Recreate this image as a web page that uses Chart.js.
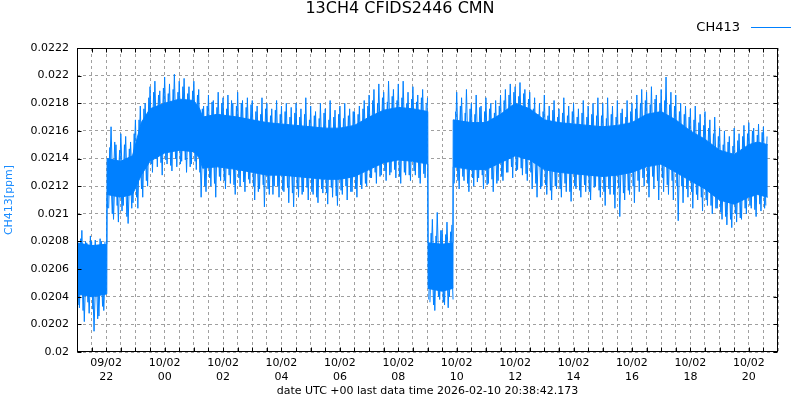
<!DOCTYPE html>
<html>
<head>
<meta charset="utf-8">
<title>13CH4 CFIDS2446 CMN</title>
<script src="https://cdn.jsdelivr.net/npm/chart.js@4.4.1/dist/chart.umd.min.js"></script>
<style>
  html, body { margin: 0; padding: 0; background: #fff; }
  #wrap { width: 800px; height: 400px; position: relative; }
</style>
</head>
<body>
<div id="wrap"><canvas id="chart"></canvas></div>
<script>
// x values are hours counted from 09/02 00:00 UTC
const X_MIN = 21;
const X_MAX = 45;
const xTickHours = [22, 24, 26, 28, 30, 32, 34, 36, 38, 40, 42, 44];
const xTickLabels = [
  ['09/02', '22'], ['10/02', '00'], ['10/02', '02'], ['10/02', '04'],
  ['10/02', '06'], ['10/02', '08'], ['10/02', '10'], ['10/02', '12'],
  ['10/02', '14'], ['10/02', '16'], ['10/02', '18'], ['10/02', '20']
];
const yTicks = [0.02, 0.0202, 0.0204, 0.0206, 0.0208, 0.021, 0.0212, 0.0214, 0.0216, 0.0218, 0.022, 0.0222];

// times where the level jumps
const jumps = [22.03, 33.02, 33.88];

// dense core of the signal (upper / lower edge)
const coreT = [21.0, 21.5, 22.02, 22.03, 22.5, 22.9, 23.2, 23.5, 24.0, 24.5, 25.0, 25.2, 25.3, 25.8,
  26.5, 27.0, 27.5, 28.0, 28.5, 29.0, 29.5, 30.0, 30.5, 31.0, 31.5, 32.0, 32.5, 33.01,
  33.02, 33.5, 33.87, 33.88, 34.5, 35.0, 35.5, 36.0, 36.5, 37.0, 37.5, 38.0, 38.5, 39.0,
  39.5, 40.0, 40.5, 41.0, 41.5, 42.0, 42.5, 43.0, 43.5, 44.0, 44.3, 44.65];
const coreHi = [0.02079, 0.02077, 0.02078, 0.02140, 0.02138, 0.02142, 0.02166, 0.02176, 0.02180, 0.02183, 0.02182, 0.02176, 0.02170, 0.02172,
  0.02170, 0.02168, 0.02166, 0.02165, 0.02164, 0.02163, 0.02162, 0.02162, 0.02164, 0.02170, 0.02175, 0.02177, 0.02176, 0.02174,
  0.02079, 0.02078, 0.02079, 0.02168, 0.02166, 0.02166, 0.02172, 0.02180, 0.02176, 0.02168, 0.02166, 0.02165, 0.02164, 0.02163,
  0.02164, 0.02166, 0.02172, 0.02174, 0.02168, 0.02160, 0.02154, 0.02146, 0.02143, 0.02150, 0.02152, 0.02150];
const coreLo = [0.02042, 0.02040, 0.02042, 0.02114, 0.02112, 0.02114, 0.02128, 0.02138, 0.02144, 0.02146, 0.02145, 0.02140, 0.02133, 0.02134,
  0.02132, 0.02130, 0.02128, 0.02128, 0.02127, 0.02126, 0.02125, 0.02125, 0.02127, 0.02132, 0.02137, 0.02139, 0.02138, 0.02136,
  0.02046, 0.02044, 0.02046, 0.02134, 0.02132, 0.02132, 0.02137, 0.02142, 0.02139, 0.02132, 0.02130, 0.02129, 0.02128, 0.02127,
  0.02128, 0.02130, 0.02134, 0.02136, 0.02130, 0.02124, 0.02118, 0.02110, 0.02107, 0.02112, 0.02114, 0.02112];

// large spikes, one extreme every 5 minutes from 21:00
const SPIKE_START = 21;
const SPIKE_STEP = 5 / 60;
const spikes = [
  0.02080, 0.02032, 0.02088, 0.02022, 0.02079, 0.02028, 0.02080, 0.02015, 0.02076, 0.02026, 0.02080, 0.02030, 0.02078,
  0.02104, 0.02163, 0.02096, 0.02150, 0.02094, 0.02158, 0.02106, 0.02156, 0.02093, 0.02152,
  0.02108, 0.02168, 0.02104, 0.02178, 0.02112, 0.02180, 0.02120,
  0.02192, 0.02130, 0.02196, 0.02134, 0.02189, 0.02128, 0.02199, 0.02136, 0.02194, 0.02131, 0.02201, 0.02134, 0.02196, 0.02138, 0.02198, 0.02130, 0.02192, 0.02136, 0.02196, 0.02132, 0.02190,
  0.02112, 0.02178,
  0.02116, 0.02186, 0.02120, 0.02182, 0.02112, 0.02188, 0.02124, 0.02184, 0.02118, 0.02186, 0.02122, 0.02180, 0.02114, 0.02188, 0.02120, 0.02182, 0.02116, 0.02184, 0.02122,
  0.02182, 0.02110, 0.02178, 0.02118, 0.02184, 0.02105, 0.02180, 0.02114, 0.02176, 0.02120, 0.02182, 0.02112, 0.02178, 0.02116, 0.02180, 0.02108, 0.02177, 0.02105,
  0.02180, 0.02112, 0.02176, 0.02116, 0.02184, 0.02110, 0.02178, 0.02114, 0.02174, 0.02108, 0.02180, 0.02115, 0.02176, 0.02107, 0.02182, 0.02112, 0.02175, 0.02106, 0.02178, 0.02114, 0.02180, 0.02110, 0.02176, 0.02116, 0.02174, 0.02112, 0.02178, 0.02118, 0.02182,
  0.02120, 0.02186, 0.02126, 0.02190, 0.02122, 0.02194, 0.02128, 0.02188, 0.02124, 0.02196, 0.02130, 0.02190, 0.02126, 0.02194, 0.02122, 0.02196, 0.02128, 0.02188, 0.02124, 0.02192, 0.02128, 0.02186, 0.02122, 0.02190, 0.02126, 0.02184,
  0.02036, 0.02096, 0.02030, 0.02101, 0.02038, 0.02088, 0.02034, 0.02094, 0.02040, 0.02092,
  0.02122, 0.02188, 0.02118, 0.02184, 0.02124, 0.02190, 0.02116, 0.02180, 0.02120, 0.02186, 0.02126, 0.02178, 0.02118, 0.02184, 0.02122, 0.02180, 0.02116, 0.02182, 0.02124, 0.02186,
  0.02124, 0.02190, 0.02130, 0.02194, 0.02126, 0.02192, 0.02132, 0.02195, 0.02128, 0.02190, 0.02124, 0.02188,
  0.02118, 0.02184, 0.02112, 0.02180, 0.02120, 0.02186, 0.02114, 0.02178, 0.02110, 0.02182, 0.02118, 0.02176, 0.02112, 0.02184, 0.02116, 0.02178, 0.02109, 0.02180, 0.02118, 0.02176, 0.02112, 0.02182, 0.02116, 0.02178, 0.02110, 0.02180, 0.02120, 0.02184,
  0.02112, 0.02180, 0.02106, 0.02184, 0.02114, 0.02178, 0.02104, 0.02182, 0.02098, 0.02176, 0.02110, 0.02182, 0.02114, 0.02180, 0.02108,
  0.02186, 0.02116, 0.02190, 0.02120, 0.02188, 0.02112, 0.02192, 0.02118, 0.02186, 0.02110, 0.02190, 0.02116, 0.02199, 0.02114, 0.02188, 0.02110, 0.02186,
  0.02095, 0.02180, 0.02108, 0.02178, 0.02112, 0.02176, 0.02104, 0.02178, 0.02110, 0.02172, 0.02102, 0.02174, 0.02106, 0.02168, 0.02100, 0.02170, 0.02104, 0.02162,
  0.02096, 0.02160, 0.02092, 0.02156, 0.02090, 0.02162, 0.02094, 0.02158, 0.02096,
  0.02164, 0.02100, 0.02166, 0.02104, 0.02162, 0.02098, 0.02165, 0.02102, 0.02163, 0.02106
];

// smaller fluctuations, one extreme every 5 minutes from 21:02:30
const SMALL_START = 21 + 2.5 / 60;
const small = [
  0.02034, 0.02082, 0.02030, 0.02080, 0.02036, 0.02084, 0.02031, 0.02081, 0.02024, 0.02082, 0.02033, 0.02080,
  0.02104, 0.02148, 0.02100, 0.02152, 0.02106, 0.02146, 0.02102, 0.02150, 0.02098, 0.02147,
  0.02104, 0.02158, 0.02112, 0.02168, 0.02118, 0.02176, 0.02124,
  0.02184, 0.02136, 0.02188, 0.02140, 0.02186, 0.02137, 0.02191, 0.02139, 0.02187, 0.02135, 0.02190, 0.02140, 0.02188, 0.02136, 0.02192, 0.02139, 0.02187, 0.02134, 0.02189, 0.02138, 0.02186, 0.02130,
  0.02176, 0.02120, 0.02178, 0.02126, 0.02181, 0.02122, 0.02177, 0.02127, 0.02180, 0.02124, 0.02176, 0.02128, 0.02182, 0.02121, 0.02178, 0.02126, 0.02180, 0.02123, 0.02177, 0.02125, 0.02179,
  0.02120, 0.02174, 0.02116, 0.02172, 0.02121, 0.02176, 0.02118, 0.02171, 0.02114, 0.02175, 0.02120, 0.02172, 0.02117, 0.02174, 0.02119, 0.02170, 0.02115, 0.02173,
  0.02118, 0.02170, 0.02114, 0.02172, 0.02119, 0.02168, 0.02116, 0.02171, 0.02112, 0.02169, 0.02118, 0.02173, 0.02115, 0.02168, 0.02119, 0.02170, 0.02113, 0.02172, 0.02117, 0.02169, 0.02120, 0.02171, 0.02116, 0.02174, 0.02118, 0.02172, 0.02121, 0.02176, 0.02122,
  0.02178, 0.02126, 0.02182, 0.02130, 0.02180, 0.02127, 0.02184, 0.02131, 0.02181, 0.02128, 0.02185, 0.02132, 0.02182, 0.02127, 0.02184, 0.02130, 0.02180, 0.02128, 0.02183, 0.02131, 0.02181, 0.02126, 0.02184, 0.02129, 0.02180,
  0.02038, 0.02086, 0.02034, 0.02084, 0.02040, 0.02088, 0.02036, 0.02085, 0.02032, 0.02087, 0.02038,
  0.02174, 0.02124, 0.02178, 0.02127, 0.02173, 0.02122, 0.02176, 0.02126, 0.02172, 0.02123, 0.02177, 0.02128, 0.02174, 0.02121, 0.02176, 0.02125, 0.02173, 0.02122, 0.02178, 0.02127,
  0.02182, 0.02130, 0.02186, 0.02134, 0.02188, 0.02131, 0.02185, 0.02133, 0.02187, 0.02129, 0.02183, 0.02130,
  0.02176, 0.02122, 0.02172, 0.02118, 0.02174, 0.02121, 0.02171, 0.02117, 0.02175, 0.02120, 0.02170, 0.02118, 0.02173, 0.02122, 0.02171, 0.02116, 0.02174, 0.02120, 0.02170, 0.02117, 0.02173, 0.02121, 0.02170, 0.02116, 0.02172, 0.02119, 0.02171, 0.02117,
  0.02171, 0.02116, 0.02169, 0.02118, 0.02172, 0.02114, 0.02170, 0.02119, 0.02173, 0.02115, 0.02170, 0.02117, 0.02174, 0.02120, 0.02176,
  0.02124, 0.02180, 0.02126, 0.02182, 0.02122, 0.02179, 0.02127, 0.02183, 0.02124, 0.02180, 0.02126, 0.02182, 0.02121, 0.02179, 0.02124, 0.02178, 0.02120,
  0.02174, 0.02120, 0.02172, 0.02118, 0.02170, 0.02116, 0.02168, 0.02114, 0.02166, 0.02112, 0.02164, 0.02110, 0.02162, 0.02106, 0.02158, 0.02104, 0.02156, 0.02101,
  0.02150, 0.02098, 0.02152, 0.02096, 0.02149, 0.02100, 0.02153, 0.02097, 0.02156,
  0.02104, 0.02158, 0.02106, 0.02160, 0.02103, 0.02157, 0.02107, 0.02159, 0.02104, 0.02156
];

const BLUE = '#0080ff';
const FONT = 'DejaVu Sans';

// title, legend and the black frame with inward ticks
const decor = {
  id: 'decor',
  afterDatasetsDraw(chart) {
    const { ctx, chartArea: a, scales: { x, y } } = chart;
    const L = Math.round(a.left) + 0.5, R = Math.round(a.right) - 0.5;
    const T = Math.round(a.top) + 0.5, B = Math.round(a.bottom) - 0.5;
    ctx.save();
    ctx.strokeStyle = '#000';
    ctx.lineWidth = 1;
    ctx.beginPath();
    for (let h = X_MIN + 0.5; h < X_MAX; h += 0.5) {
      const px = Math.round(x.getPixelForValue(h)) + 0.5;
      ctx.moveTo(px, B); ctx.lineTo(px, B - 4);
      ctx.moveTo(px, T); ctx.lineTo(px, T + 4);
    }
    yTicks.forEach((v) => {
      const py = Math.round(y.getPixelForValue(v)) + 0.5;
      ctx.moveTo(L, py); ctx.lineTo(L + 4, py);
      ctx.moveTo(R, py); ctx.lineTo(R - 4, py);
    });
    ctx.stroke();
    ctx.strokeRect(L, T, R - L, B - T);
    ctx.restore();
  },
  afterDraw(chart) {
    const { ctx } = chart;
    ctx.save();
    ctx.fillStyle = '#000';
    ctx.textBaseline = 'alphabetic';
    ctx.font = `16px "${FONT}"`;
    ctx.textAlign = 'center';
    ctx.fillText('13CH4 CFIDS2446 CMN', 400, 13);
    ctx.font = `13px "${FONT}"`;
    ctx.textAlign = 'right';
    ctx.fillText('CH413', 740, 31);
    ctx.strokeStyle = BLUE;
    ctx.lineWidth = 1;
    ctx.beginPath();
    ctx.moveTo(751, 27.5);
    ctx.lineTo(791, 27.5);
    ctx.stroke();
    ctx.restore();
  }
};

// a noise segment that straddles a level jump is not drawn (the jump is drawn by the core)
const overJump = (c) => jumps.some((j) => c.p0.parsed.x < j && c.p1.parsed.x > j);

const line = (points) => ({
  data: points, borderColor: BLUE, backgroundColor: BLUE, borderWidth: 1,
  pointRadius: 0, fill: false, tension: 0,
  segment: { borderColor: (c) => (overJump(c) ? 'rgba(0,0,0,0)' : undefined) }
});

new Chart(document.getElementById('chart'), {
  type: 'line',
  data: {
    datasets: [
      { ...line(coreT.map((t, i) => ({ x: t, y: coreHi[i] }))), fill: '+1', segment: {} },
      { ...line(coreT.map((t, i) => ({ x: t, y: coreLo[i] }))), segment: {} },
      line(small.map((v, i) => ({ x: SMALL_START + i * SPIKE_STEP, y: v }))),
      { ...line(spikes.map((v, i) => ({ x: SPIKE_START + i * SPIKE_STEP, y: v }))), label: 'CH413' }
    ]
  },
  options: {
    responsive: true,
    maintainAspectRatio: false,
    devicePixelRatio: 1,
    animation: false,
    layout: { padding: { top: 48, right: 22, bottom: 0, left: 0 } },
    plugins: { legend: { display: false }, title: { display: false }, tooltip: { enabled: false } },
    scales: {
      x: {
        type: 'linear',
        min: X_MIN,
        max: X_MAX,
        afterFit: (s) => { s.height = 48; },
        afterBuildTicks: (s) => {
          s.ticks = [];
          for (let h = X_MIN; h <= X_MAX; h += 0.5) s.ticks.push({ value: h });
        },
        ticks: {
          autoSkip: false, maxRotation: 0, minRotation: 0, padding: 4,
          color: '#000', font: { family: FONT, size: 11, lineHeight: 1.27 },
          callback: (v) => {
            const i = xTickHours.indexOf(v);
            return i >= 0 ? xTickLabels[i] : '';
          }
        },
        grid: { color: '#a0a0a0', lineWidth: 1, drawTicks: false },
        border: { display: false, dash: [3, 3] },
        title: {
          display: true,
          text: 'date UTC +00 last data time 2026-02-10 20:38:42.173',
          color: '#000', font: { family: FONT, size: 11 },
          padding: { top: 0, bottom: 2 }
        }
      },
      y: {
        min: 0.02,
        max: 0.0222,
        afterFit: (s) => { s.width = 77; },
        afterBuildTicks: (s) => { s.ticks = yTicks.map((v) => ({ value: v })); },
        ticks: {
          padding: 8, color: '#000', font: { family: FONT, size: 11 },
          callback: (v) => String(+v.toFixed(4))
        },
        grid: { color: '#a0a0a0', lineWidth: 1, drawTicks: false },
        border: { display: false, dash: [3, 3] },
        title: {
          display: true, text: 'CH413[ppm]', color: '#1a8cff',
          font: { family: FONT, size: 11 }, padding: { top: 3, bottom: 0 }
        }
      }
    }
  },
  plugins: [decor]
});
</script>
</body>
</html>
